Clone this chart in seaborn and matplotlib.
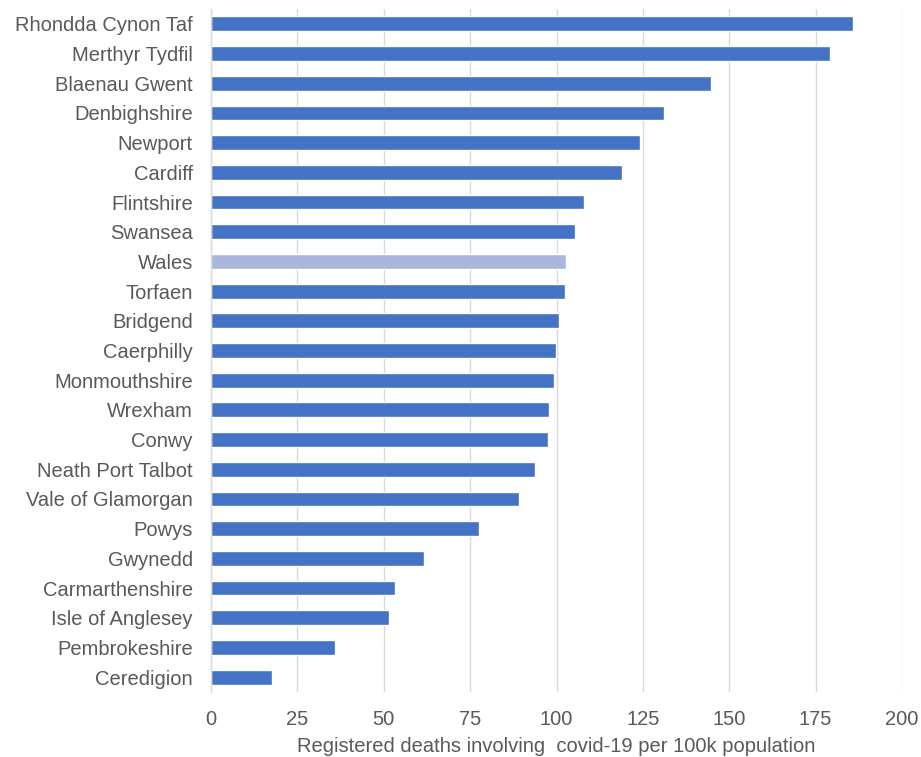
import matplotlib
matplotlib.use("Agg")
import matplotlib.pyplot as plt
import seaborn as sns
import pandas as pd

areas = [
    "Rhondda Cynon Taf", "Merthyr Tydfil", "Blaenau Gwent", "Denbighshire",
    "Newport", "Cardiff", "Flintshire", "Swansea", "Wales", "Torfaen",
    "Bridgend", "Caerphilly", "Monmouthshire", "Wrexham", "Conwy",
    "Neath Port Talbot", "Vale of Glamorgan", "Powys", "Gwynedd",
    "Carmarthenshire", "Isle of Anglesey", "Pembrokeshire", "Ceredigion",
]
deaths_per_100k = [
    185.9, 179.2, 144.8, 131.0,
    124.2, 119.0, 107.9, 105.3, 102.7, 102.4,
    100.8, 99.9, 99.2, 97.9, 97.6,
    93.8, 89.2, 77.7, 61.7,
    53.3, 51.4, 35.8, 17.8,
]
x_ticks = [0, 25, 50, 75, 100, 125, 150, 175, 200]
x_label = "Registered deaths involving  covid-19 per 100k population"

df = pd.DataFrame({"area": areas, "rate": deaths_per_100k})
df["group"] = ["national" if a == "Wales" else "local" for a in areas]

sns.set_style("white")
plt.rcParams["font.family"] = ["Liberation Sans", "DejaVu Sans"]

text_color = "#595959"
grid_color = "#D9D9D9"
font_size = 14.5

fig = plt.figure(figsize=(9.21, 7.57), dpi=100)
ax = fig.add_axes([211 / 921, 1 - 692 / 757, (902 - 211) / 921, (692 - 9) / 757])

sns.barplot(
    data=df, x="rate", y="area", hue="group", order=areas,
    palette={"local": "#4472C4", "national": "#A9B7DA"},
    width=0.5, dodge=False, legend=False, ax=ax, saturation=1,
)

ax.set_xlim(0, 200)
ax.set_xticks(x_ticks)
ax.set_xticklabels([str(t) for t in x_ticks])
ax.xaxis.grid(True, color=grid_color, linewidth=1)
ax.yaxis.grid(False)
ax.set_axisbelow(True)
for side in ["top", "right", "bottom"]:
    ax.spines[side].set_visible(False)
ax.spines["left"].set_color(grid_color)
ax.spines["left"].set_linewidth(1)

ax.tick_params(axis="x", length=5, color=grid_color, colors=text_color,
               labelsize=font_size, pad=8)
ax.tick_params(axis="y", length=0, colors=text_color, labelsize=font_size, pad=13)
ax.set_ylabel("")
ax.set_xlabel(x_label, fontsize=font_size, color=text_color, labelpad=6)

fig.savefig("out.png", dpi=100, facecolor="white")
